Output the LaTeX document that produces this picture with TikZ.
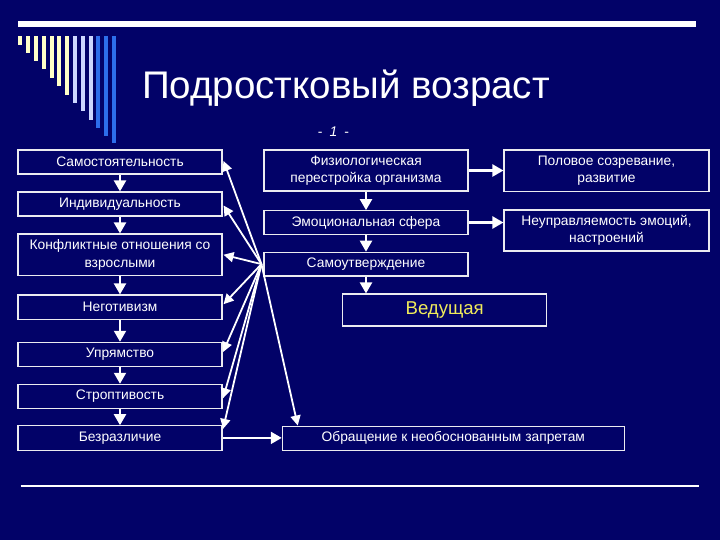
\documentclass[tikz,border=0pt]{standalone}
\usepackage{fontspec}
\setmainfont{Liberation Sans}
\usetikzlibrary{arrows.meta,calc}
\definecolor{bg}{RGB}{2,2,104}
\definecolor{cream}{RGB}{255,255,200}
\definecolor{lav}{RGB}{205,215,255}
\definecolor{barblue}{RGB}{45,110,235}
\definecolor{vedyellow}{RGB}{240,235,90}
\definecolor{boxline}{RGB}{235,235,240}
\begin{document}
\begin{tikzpicture}[x=1pt,y=-1pt,
  box/.style={draw=boxline,line width=1.1pt,fill=bg,rectangle,inner sep=0pt,
    text=white,align=center,font=\fontsize{13.8}{17.5}\selectfont},
  arr/.style={draw=white,line width=2.2pt,-{Triangle[length=11pt,width=12pt]}},
  fanarr/.style={draw=white,line width=1.8pt,-{Triangle[length=10pt,width=10pt]}}]
\useasboundingbox (0,0) rectangle (720,540);
\fill[bg] (0,0) rectangle (720,540);
% top line
\fill[white] (17.5,21.2) rectangle (695.7,26.7);
% bars
\foreach \i/\b/\c in {0/45/cream,1/52.7/cream,2/60.7/cream,3/69/cream,4/77.7/cream,5/85.7/cream,6/95/cream,7/103/lav,8/111/lav,9/120/lav,10/127.7/barblue,11/135.7/barblue,12/143.3/barblue}
  \fill[\c] ({18.3+7.8*\i},36) rectangle ({22.3+7.8*\i},\b);
% title
\node[text=white,font=\fontsize{38.5}{40}\selectfont,inner sep=0pt,anchor=base] (title) at (346,99) {Подростковый возраст};
\node[text=white,font=\fontsize{14}{16}\selectfont,inner sep=0pt,anchor=base] (num) at (333.5,136.5) {-\hspace{7pt}\textit{1}\hspace{7pt}-};
% left column
\node[box,minimum width=204pt,minimum height=24pt] (samo) at (120,162) {Самостоятельность};
\node[box,minimum width=204pt,minimum height=24pt] (indiv) at (120,204) {Индивидуальность};
\node[box,minimum width=204pt,minimum height=41.5pt] (konf) at (120,254.75) {Конфликтные отношения со\\взрослыми};
\node[box,minimum width=204pt,minimum height=24.5pt] (neg) at (120,307.2) {Неготивизм};
\node[box,minimum width=204pt,minimum height=24.4pt] (upr) at (120,354.5) {Упрямство};
\node[box,minimum width=204pt,minimum height=24pt] (strop) at (120,396.3) {Строптивость};
\node[box,minimum width=204pt,minimum height=24.3pt] (bez) at (120,437.9) {Безразличие};
% middle column
\node[box,minimum width=204pt,minimum height=41pt] (fiz) at (366,170.5) {Физиологическая\\перестройка организма};
\node[box,minimum width=204pt,minimum height=23.6pt] (emo) at (366,222.5) {Эмоциональная сфера};
\node[box,minimum width=204pt,minimum height=23.7pt] (samout) at (366,264.1) {Самоутверждение};
\node[box,minimum width=204pt,minimum height=32pt,text=vedyellow,font=\fontsize{18.6}{21}\selectfont] (ved) at (444.7,310) {Ведущая};
% right column
\node[box,minimum width=205pt,minimum height=41.5pt] (pol) at (606.5,170.8) {Половое созревание,\\развитие};
\node[box,minimum width=205pt,minimum height=41pt] (neupr) at (606.5,230.5) {Неуправляемость эмоций,\\настроений};
% bottom box
\node[box,minimum width=342pt,minimum height=24.5pt] (obr) at (453.3,438.3) {Обращение к необоснованным запретам};
% bottom line
\draw[white,line width=1.2pt] (20.7,486) -- (699,486);
% vertical arrows left
\draw[arr] (samo.south) -- (indiv.north);
\draw[arr] (indiv.south) -- (konf.north);
\draw[arr] (konf.south) -- (neg.north);
\draw[arr] (neg.south) -- (upr.north);
\draw[arr] (upr.south) -- (strop.north);
\draw[arr] (strop.south) -- (bez.north);
% vertical arrows middle
\draw[arr] (fiz.south) -- (emo.north);
\draw[arr] (emo.south) -- (samout.north);
\draw[arr] (samout.south) -- (samout.south |- ved.north);
% horizontal arrows
\draw[arr] (fiz.east) -- (fiz.east -| pol.west);
\draw[arr] (emo.east) -- (emo.east -| neupr.west);
\draw[arr] (bez.east) -- (bez.east -| obr.west);
% fan arrows
\coordinate (fan) at ([xshift=-2pt]samout.west);
\draw[fanarr] (fan) -- ([xshift=1pt,yshift=1pt]samo.east);
\draw[fanarr] (fan) -- ([xshift=1pt,yshift=-1.5pt]indiv.east);
\draw[fanarr] (fan) -- ([xshift=1pt]konf.east);
\draw[fanarr] (fan) -- ([xshift=1pt,yshift=3pt]neg.east);
\draw[fanarr] (fan) -- ([xshift=0.5pt,yshift=2.5pt]upr.east);
\draw[fanarr] (fan) -- ([xshift=0.5pt,yshift=-2pt]strop.east);
\draw[fanarr] (fan) -- ([xshift=0.5pt,yshift=9pt]bez.east);
\draw[fanarr] (fan) -- ([xshift=16pt]obr.north west);
\end{tikzpicture}
\end{document}
